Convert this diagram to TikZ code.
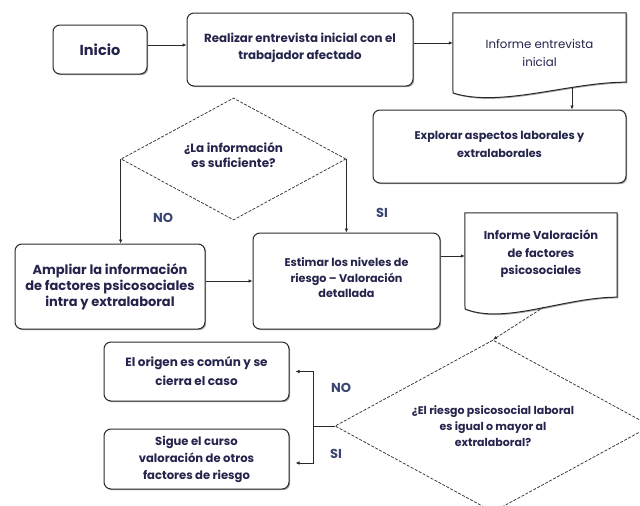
\documentclass[tikz,border=0pt]{standalone}
\usepackage{fontspec}
\setmainfont{Poppins}
\usetikzlibrary{shapes.geometric,arrows.meta,shadows}
\definecolor{txt}{HTML}{24244C}
\definecolor{lbl}{HTML}{3A4672}
\definecolor{edge}{HTML}{2A2A2A}
\begin{document}
\begin{tikzpicture}[x=1pt,y=-1pt,
  shad/.style={drop shadow={shadow xshift=1.2pt,shadow yshift=-1.2pt,opacity=0.35,fill=black}},
  box/.style={draw=edge, line width=1pt, rounded corners=7pt, fill=white, shad,
    inner sep=0pt, align=center, text=txt},
  doctext/.style={inner sep=0pt, align=center, text=txt},
  docline/.style={draw=edge, line width=1pt, fill=white, shad},
  dec/.style={diamond, aspect=1.84, draw=edge, line width=0.7pt, dash pattern=on 3pt off 1.5pt,
    inner sep=0pt, align=center, text=txt},
  arr/.style={draw=edge, line width=0.7pt, -{Latex[length=4pt,width=3.5pt]}},
  ln/.style={draw=edge, line width=0.7pt},
  lab/.style={text=lbl, font=\fontsize{13}{14}\selectfont\bfseries},
]
\clip (0,0) rectangle (640,506);
\fill[white] (0,0) rectangle (640,506);

% row 1
\node[box, minimum width=94pt, minimum height=49pt, font=\fontsize{14.5}{16}\selectfont\bfseries] (inicio) at (100,49.5) {Inicio};
\node[box, minimum width=226pt, minimum height=73pt, font=\fontsize{11.8}{17}\selectfont\bfseries] (realizar) at (300,49.5) {Realizar entrevista inicial con el\\trabajador afectado\\[-11pt]};

\node[minimum width=173pt, minimum height=69pt, inner sep=0pt] (informe) at (539.5,47.5) {};
\path[docline] (informe.north west) -- (informe.north east) -- (informe.south east)
  .. controls (570,82) and (500,108) .. (453,93) -- cycle;
\node[doctext, font=\fontsize{11.8}{18}\selectfont] (informetxt) at (539.5,53) {Informe entrevista\\inicial};

\node[box, minimum width=253pt, minimum height=73pt, font=\fontsize{11.2}{18}\selectfont\bfseries] (explorar) at (499.5,146.5) {Explorar aspectos laborales y\\extralaborales\\[-14pt]};

% decision 1
\node[dec, minimum width=225pt, minimum height=122pt, font=\fontsize{12}{14.5}\selectfont\bfseries] (d1) at (233.5,159) {¿La información\\es suficiente?\\[-6.5pt]};

% row 3
\node[box, minimum width=190pt, minimum height=85pt, font=\fontsize{13}{16}\selectfont\bfseries] (ampliar) at (110,286.5) {Ampliar la información\\de factores psicosociales\\intra y extralaboral};
\node[box, minimum width=187pt, minimum height=96pt, font=\fontsize{11.2}{15.5}\selectfont\bfseries] (estimar) at (346.5,281) {Estimar los niveles de\\riesgo – Valoración\\detallada\\[-9.5pt]};

\node[minimum width=152pt, minimum height=84pt, inner sep=0pt] (valor) at (541,255) {};
\path[docline] (valor.north west) -- (valor.north east) -- (valor.south east)
  .. controls (565,297) and (505,325) .. (465,309) -- cycle;
\node[doctext, font=\fontsize{11.5}{17.5}\selectfont\bfseries] (valortxt) at (541,254) {Informe Valoración\\de factores\\psicosociales};

% decision 2
\node[dec, minimum width=316pt, minimum height=172pt, font=\fontsize{11}{16}\selectfont\bfseries] (d2) at (493,426) {¿El riesgo psicosocial laboral\\es igual o mayor al\\extralaboral?};

% bottom boxes
\node[box, minimum width=185pt, minimum height=59pt, font=\fontsize{12}{19}\selectfont\bfseries] (origen) at (196.5,371.5) {El origen es común y se\\cierra el caso};
\node[box, minimum width=185pt, minimum height=60pt, font=\fontsize{11.6}{17}\selectfont\bfseries] (sigue) at (196.5,459) {Sigue el curso\\valoración de otros\\factores de riesgo};

% connectors
\draw[arr] ([yshift=4.5pt]inicio.east) -- ([yshift=4.5pt]inicio.east -| realizar.west);
\draw[arr] ([yshift=6.5pt]realizar.east) -- ([yshift=6.5pt]realizar.east -| informe.west);
\coordinate (w1) at (572,88);
\draw[arr] (w1) -- (w1 |- explorar.north);
\draw[arr] (d1.west) -- (d1.west |- ampliar.north);
\draw[arr] (d1.east) -- (d1.east |- estimar.north);
\node[lab] (no1) at (163,218) {NO};
\node[lab] (si1) at (382,213) {SI};
\draw[arr] (ampliar.east |- estimar.center) -- (estimar.west);
\draw[arr] ([yshift=25pt]estimar.east) -- ([yshift=25pt]estimar.east -| valor.west);
\coordinate (w2) at (544,307);
\draw[arr, dash pattern=on 3pt off 1.5pt] (w2) -- (d2.north);
\coordinate (j) at (313,426);
\draw[ln] (d2.west) -- (j);
\draw[arr] (j) |- ([xshift=6pt]origen.east);
\draw[arr] (j) |- ([xshift=6pt,yshift=-4pt]sigue.east);
\node[lab] (no2) at (341,388) {NO};
\node[lab] (si2) at (336,454) {SI};
\end{tikzpicture}
\end{document}
